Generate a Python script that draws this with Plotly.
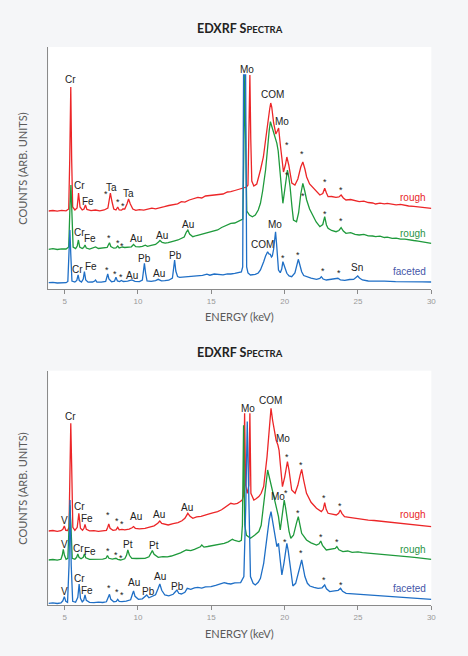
import plotly.graph_objects as go

# ---- upper panel: (energy keV, counts arb. units) ----
top_red = [(3.9,78),(4.2,78.5),(4.5,77.8),(4.8,78.6),(5.1,78.2),(5.28,80),(5.35,130),(5.42,202),(5.48,130),(5.55,82),
    (5.7,79),(5.85,81),(5.95,96),(6.05,82),(6.2,79),(6.32,80),(6.42,84),(6.52,79.5),(6.8,78.4),(7.1,79),(7.4,78.2),
    (7.7,79),(7.95,81),(8.05,90),(8.12,96),(8.22,88),(8.35,80),(8.5,79),(8.62,82),(8.72,79),(8.88,78.8),(8.97,80),
    (9.1,80),(9.25,85),(9.36,90),(9.48,85),(9.65,80),(9.85,78.6),(10.1,79.4),(10.4,78.8),(10.7,80.2),(10.95,80.8),
    (11.2,80.2),(11.5,81.6),(11.8,82.3),(12.1,83.5),(12.4,84.4),(12.7,85.2),(12.96,87.3),(13.2,86.8),(13.5,89),
    (13.8,90.6),(14.08,91.7),(14.35,91),(14.6,93),(14.9,93.5),(15.2,94),(15.5,95.2),(15.8,95),(16.1,97),(16.33,97.3),
    (16.6,98.5),(16.85,99.5),(17.05,100.7),(17.2,101.5),(17.4,102),(17.5,104),(17.57,150),(17.63,214),(17.69,150),
    (17.76,108),(17.9,103),(18.1,105),(18.35,119),(18.55,132),(18.7,149),(18.85,168),(18.98,180),(19.05,186),
    (19.12,182),(19.25,166),(19.4,155),(19.5,158),(19.59,161),(19.7,145),(19.81,129),(19.92,117),(20.05,124),
    (20.15,132),(20.28,124),(20.49,106),(20.7,104),(20.9,110),(21.1,122),(21.24,127),(21.38,120),(21.5,112),
    (21.7,105),(21.95,100.7),(22.2,97),(22.4,94),(22.6,95.5),(22.73,100.7),(22.85,96),(22.96,92.3),(23.2,92.5),
    (23.5,91.7),(23.7,92),(23.85,94),(24.0,91),(24.18,89),(24.5,89.5),(24.8,88),(25.08,87.3),(25.4,87.8),(25.7,86.5),
    (26.0,86),(26.2,85),(26.5,85.8),(26.8,85.2),(27.0,85.6),(27.33,85),(27.6,84.2),(27.9,84.6),(28.2,83.5),
    (28.45,83),(28.8,82.6),(29.1,82.2),(29.4,81.5),(29.7,81.2),(30.0,80.7)]

top_green = [(3.9,39.7),(4.2,40.3),(4.5,39.5),(4.8,40.2),(5.1,40),(5.28,42),(5.36,80),(5.43,104),(5.5,75),(5.58,42),
    (5.75,40.5),(5.86,43),(5.94,49),(6.03,42),(6.2,40.5),(6.3,41.5),(6.39,44),(6.48,41),(6.7,40),(7.0,41),(7.11,42),
    (7.3,40.5),(7.6,40.8),(7.9,41.5),(7.98,44),(8.06,46.3),(8.15,42.5),(8.35,40.8),(8.5,41),(8.62,43),(8.72,41),
    (8.85,41.2),(8.93,42),(9.1,41.5),(9.3,41.8),(9.55,42.2),(9.7,44.5),(9.85,42.4),(10.1,42.2),(10.3,42.6),
    (10.5,43.8),(10.65,42.6),(10.9,43.6),(11.2,44.6),(11.4,47),(11.5,48.5),(11.65,46.5),(11.85,45.8),(12.06,46.3),
    (12.3,47.6),(12.5,48.2),(12.73,49),(12.95,50.5),(13.15,52),(13.3,57),(13.4,59),(13.52,55),(13.74,52.3),
    (14.0,53.5),(14.3,54.6),(14.53,55.7),(14.8,56.8),(15.1,58),(15.43,59),(15.7,61.5),(16.0,63.5),(16.33,65.7),
    (16.6,66),(16.85,67.5),(17.0,69),(17.15,70),(17.22,140),(17.28,214),(17.35,140),(17.42,78),(17.6,74),
    (17.8,72.3),(18.0,74),(18.2,79),(18.35,85.7),(18.5,98),(18.7,119),(18.85,145),(18.95,159),(19.03,167.3),
    (19.12,163),(19.25,157.3),(19.38,150),(19.47,145.7),(19.56,138),(19.65,125.7),(19.76,105),(19.88,85.7),
    (20.0,98),(20.1,112),(20.19,119),(20.28,112),(20.37,102.3),(20.5,82),(20.6,69),(20.81,67.3),(20.95,76),
    (21.1,95),(21.24,105.7),(21.37,98),(21.5,89),(21.7,80),(21.95,72.3),(22.15,67),(22.4,62.3),(22.6,64.5),
    (22.73,72.3),(22.85,64),(22.96,60.7),(23.2,58.5),(23.5,57.3),(23.7,58.5),(23.85,61.3),(24.0,58),(24.18,55.7),
    (24.5,56.3),(24.8,54.6),(25.08,54),(25.4,54.6),(25.7,53.2),(26.0,53),(26.2,52.3),(26.5,52.8),(26.8,51.5),
    (27.0,51.8),(27.33,50.7),(27.6,50.8),(27.9,49.8),(28.2,49.9),(28.45,49),(28.8,48.5),(29.1,47.9),(29.4,47.2),
    (29.7,46.5),(30.0,45.7)]

top_blue = [(3.9,6.3),(4.2,6.6),(4.5,6.0),(4.8,6.5),(5.1,6.3),(5.22,7.5),(5.3,35),(5.36,59),(5.42,35),(5.5,8),
    (5.7,7),(5.83,8.5),(5.92,14),(6.0,8.5),(6.15,7),(6.27,10),(6.35,17.3),(6.44,9),(6.6,6.8),(6.9,7),(7.05,8),
    (7.11,9),(7.2,7),(7.5,6.8),(7.8,7.5),(7.88,11),(7.94,15),(8.02,10),(8.2,7.2),(8.4,7.8),(8.5,11.7),(8.6,8),
    (8.75,7.4),(8.87,8.5),(9.0,7.5),(9.3,7.8),(9.58,9),(9.8,7.6),(10.1,7.4),(10.3,9),(10.38,18),(10.44,25.7),
    (10.52,16),(10.62,8),(10.9,7.6),(11.2,8.4),(11.38,9.7),(11.6,8.2),(11.83,8.3),(12.1,8.8),(12.35,11),(12.43,20),
    (12.5,29),(12.58,18),(12.7,12.5),(12.84,11.7),(13.1,12),(13.4,12.6),(13.7,12.4),(14.08,13),(14.4,13.6),
    (14.7,14.8),(14.9,13.8),(15.2,15),(15.5,14.6),(15.8,14.2),(16.1,15.2),(16.33,15),(16.6,15.6),(16.89,16.3),
    (17.05,17),(17.14,22),(17.2,214),(17.34,214),(17.41,22),(17.5,16),(17.67,14),(18.0,14.7),(18.2,16),(18.35,19),
    (18.5,24),(18.57,27.3),(18.7,33),(18.84,37.3),(18.93,35),(19.02,34.7),(19.1,32),(19.16,33),(19.25,40),
    (19.32,52),(19.38,57.3),(19.45,45),(19.52,26),(19.58,19),(19.7,16.3),(19.8,20),(19.88,27.3),(19.98,22),
    (20.15,15.7),(20.3,13),(20.48,12.3),(20.7,16),(20.85,26),(20.93,29.7),(21.02,25),(21.16,17.3),(21.3,13.5),
    (21.49,12.3),(21.8,10.8),(22.17,9.7),(22.4,10.5),(22.5,12.3),(22.62,10),(22.84,9),(23.2,9.5),(23.5,9.8),
    (23.63,10.7),(23.8,9.2),(24.1,8.6),(24.42,9.5),(24.7,9.6),(24.9,12),(24.98,13),(25.1,11),(25.3,9),(25.7,8),
    (26.2,7.6),(26.8,7.8),(27.56,7.3),(28.2,7.5),(28.8,7.0),(29.4,7.2),(30.0,7)]

# ---- lower panel ----
bot_red = [(3.9,74.3),(4.2,74.8),(4.5,74),(4.75,74.6),(4.88,76),(4.98,79.3),(5.08,75),(5.2,74.8),(5.3,78),(5.36,140),
    (5.42,182),(5.48,140),(5.56,78),(5.7,75),(5.86,78),(5.97,92),(6.08,77),(6.22,75),(6.32,77),(6.39,81),(6.48,76),
    (6.7,74.5),(7.0,74.7),(7.3,74),(7.6,74.5),(7.85,75),(7.94,78),(8.01,81.3),(8.1,77),(8.3,75),(8.5,75.5),
    (8.62,78),(8.72,75.5),(8.91,76),(9.1,75.5),(9.4,76.2),(9.6,77.5),(9.7,78.7),(9.82,77),(10.1,76.5),(10.48,77),
    (10.8,78.5),(11.1,79.5),(11.35,82),(11.49,84.3),(11.62,82),(11.85,80.8),(12.06,80.3),(12.4,81.6),(12.73,82.7),
    (13.0,84.5),(13.2,87),(13.4,92),(13.55,89),(13.74,87),(14.0,88.4),(14.3,89),(14.53,90.3),(14.8,91.2),
    (15.1,92.5),(15.43,93.7),(15.7,95.5),(16.0,98.6),(16.33,102),(16.55,101.2),(16.78,102),(16.95,103.5),
    (17.11,105.3),(17.2,110),(17.27,192),(17.34,120),(17.45,112),(17.56,120),(17.63,192),(17.7,112),(17.9,105.3),
    (18.05,106.5),(18.24,108.7),(18.4,112),(18.57,118.7),(18.8,148.7),(18.95,175),(19.07,197),(19.18,185),
    (19.29,175.3),(19.42,165),(19.54,160.3),(19.62,155),(19.7,142),(19.85,118.7),(20.0,128),(20.1,138),
    (20.19,143.7),(20.3,135),(20.48,115.3),(20.71,112),(20.9,120),(21.05,130),(21.16,136),(21.3,125),(21.49,112),
    (21.8,103),(22.17,97),(22.5,93.7),(22.63,96),(22.73,102.7),(22.83,96),(22.96,92),(23.25,91),(23.52,90.3),
    (23.68,92),(23.79,95.3),(23.9,92),(24.08,88.7),(24.4,88),(24.8,87),(25.3,86),(25.7,85.2),(26.1,84.8),
    (26.5,84.2),(27.0,83.2),(27.56,82),(28.0,81.2),(28.5,80.5),(29.0,79.8),(29.5,79.2),(30.0,78.7)]

bot_green = [(3.9,45.3),(4.2,45.8),(4.5,45.1),(4.75,46),(4.84,50),(4.91,56),(4.99,50),(5.1,46),(5.22,47),(5.3,80),
    (5.36,100),(5.43,80),(5.52,47),(5.7,46),(5.82,48),(5.9,51.3),(5.98,48),(6.12,46.5),(6.27,48),(6.35,51.3),
    (6.44,47.5),(6.7,46),(7.0,46.2),(7.3,45.8),(7.6,46.2),(7.82,47),(7.92,49.7),(8.02,47),(8.25,46.2),(8.5,47),
    (8.62,46),(8.82,45.3),(9.1,46.5),(9.22,50),(9.31,55.3),(9.42,50),(9.58,47),(9.9,46.8),(10.2,47.2),(10.48,47),
    (10.75,48.5),(10.9,52),(10.98,54.7),(11.1,51),(11.38,48),(11.7,48.6),(12.0,48.5),(12.28,49.3),(12.6,50.8),
    (12.9,52.5),(13.29,55.3),(13.6,54.6),(13.85,56),(14.08,57),(14.25,58.5),(14.35,60.3),(14.5,58.2),(14.75,58.8),
    (14.98,59.3),(15.2,60.5),(15.5,60.8),(15.88,62),(16.15,63.5),(16.44,66),(16.6,64.8),(16.89,63.7),(17.05,65),
    (17.12,80),(17.2,180),(17.28,80),(17.4,70),(17.67,67),(17.95,70),(18.24,73.7),(18.4,80),(18.57,98.7),
    (18.72,120),(18.84,135.3),(18.95,128),(19.07,120.3),(19.18,114),(19.29,108.7),(19.45,98),(19.58,88.7),
    (19.7,75.3),(19.85,90),(19.97,105.3),(20.06,98),(20.15,88.7),(20.3,74),(20.42,67),(20.6,70),(20.8,82),
    (20.93,88.7),(21.05,80),(21.16,72),(21.49,65.3),(21.8,62.5),(22.17,60.3),(22.35,61.5),(22.46,64.3),(22.58,60),
    (22.84,55.3),(23.2,56.5),(23.45,56.8),(23.56,58.7),(23.7,55.5),(23.97,53.7),(24.3,54.3),(24.6,53),(25.0,53.4),
    (25.3,52.7),(25.7,52.2),(26.1,51.8),(26.5,51.4),(27.0,51),(27.56,50.3),(28.0,49.5),(28.5,48.4),(29.0,47.6),
    (29.5,46.8),(30.0,46)]

bot_blue = [(3.9,2),(4.2,2.4),(4.5,1.8),(4.75,2.4),(4.88,4.5),(4.98,8.7),(5.08,4),(5.2,3),(5.3,40),(5.37,105.3),
    (5.45,40),(5.55,4),(5.75,3),(5.9,8),(5.99,21.3),(6.08,7),(6.2,3.5),(6.3,5),(6.39,10.3),(6.48,5),(6.7,3),
    (7.0,2.7),(7.3,3.2),(7.6,2.8),(7.85,3.5),(7.98,8),(8.06,11),(8.15,6),(8.35,3.5),(8.52,4),(8.62,6),(8.72,4),
    (8.91,3.7),(9.2,4.2),(9.5,5.5),(9.62,11),(9.7,14.3),(9.8,9),(10.03,6),(10.3,6.5),(10.5,8.5),(10.6,10.3),
    (10.75,7.5),(10.93,8.7),(11.2,10.5),(11.38,17),(11.49,21.3),(11.62,15),(11.83,10.3),(12.1,9.5),(12.4,11),
    (12.58,14),(12.66,15.3),(12.78,12),(12.96,11.3),(13.2,13),(13.36,17),(13.6,16),(13.85,17.5),(14.08,18),
    (14.35,17.2),(14.6,18.5),(14.98,18.7),(15.3,20),(15.6,21.2),(15.88,22.7),(16.1,21.8),(16.33,21.3),(16.6,22.4),
    (17.0,22.7),(17.22,28.7),(17.35,100),(17.45,183.7),(17.55,100),(17.67,28.7),(17.85,22),(18.0,20.3),(18.2,23),
    (18.35,27),(18.57,42),(18.72,58),(18.84,75.3),(18.95,86),(19.07,93.7),(19.16,86),(19.25,78.7),(19.38,66),
    (19.47,58.7),(19.52,60),(19.58,62),(19.7,45),(19.81,30.3),(19.95,42),(20.07,56),(20.15,62),(20.24,55),
    (20.33,45.3),(20.45,28),(20.56,19.3),(20.75,22),(20.95,33),(21.08,42),(21.16,45.3),(21.26,38),(21.38,28.7),
    (21.55,22),(21.72,19.3),(22.0,18),(22.28,17),(22.55,17.5),(22.73,20.3),(22.85,16.5),(23.07,13.7),(23.4,14.5),
    (23.65,15),(23.81,17),(23.95,14),(24.19,12),(24.6,11.6),(25.0,10.8),(25.3,10.3),(25.8,10),(26.4,9.4),
    (27.0,9),(27.56,8.7),(28.2,8),(28.8,7.4),(29.4,6.8),(30.0,6)]

# peak labels: (text, keV, counts)
top_labels = [("Cr",5.4,210),("Mo",17.4,220),("COM",19.14,195),("Mo",19.83,168),("*",20.15,144),("*",21.2,135),
    ("*",22.76,107),("*",23.84,99),
    ("Cr",5.99,104),("Fe",6.62,88),("*",7.79,95),("Ta",8.2,102),("*",8.63,87),("*",8.99,83),("Ta",9.38,96),
    ("*",20.19,114),("*",21.24,93),("*",22.73,75),("*",23.85,68),
    ("Cr",5.99,57),("Fe",6.75,51),("*",8.02,51),("*",8.63,46),("*",8.93,43),("Au",9.88,51),("Au",11.66,54),
    ("Au",13.41,65),
    ("Cr",5.88,20),("Fe",6.78,23),("*",7.92,19),("*",8.46,15),("*",8.82,12),("Au",9.61,14),("Pb",10.44,31),
    ("Au",11.41,16),("Pb",12.55,34),("COM",18.47,45),("Mo",19.32,65),("*",19.86,31),("*",20.94,34),
    ("*",22.6,18),("*",23.7,16),("Sn",24.92,22)]

bot_labels = [("Cr",5.4,189),("Mo",17.5,197),("COM",19.03,205),("Mo",19.86,167),("*",20.15,148),("*",21.14,140),
    ("*",22.69,107),("*",23.75,99),
    ("V",4.98,85),("Cr",5.99,99),("Fe",6.55,87),("*",7.95,90),("*",8.6,84),("*",8.91,81),("Au",9.88,89),
    ("Au",11.43,91),("Au",13.32,98),
    ("V",4.96,61),("Cr",5.92,57),("Fe",6.75,54),("*",7.93,54),("*",8.49,50),("*",8.82,47),("Pt",9.32,61),
    ("Pt",11.07,60),("Mo",19.55,109),("*",20.06,112),("*",20.94,92),("*",22.47,68),("*",23.57,63),
    ("V",4.98,14),("Cr",5.99,27),("Fe",6.55,15),("*",8.06,17),("*",8.58,13),("*",8.91,10),("Au",9.72,23),
    ("Pb",10.71,14),("Au",11.52,29),("Pb",12.69,19),("*",20.0,63),("*",21.1,52),("*",22.69,25),("*",23.81,20)]

series_names = ["rough", "rough", "faceted"]
top_name_y = [92, 56, 18]
bot_name_y = [91, 56, 17]

colors = ["#ec2628", "#1f9a3c", "#1f6fc6"]
name_colors = ["#e8262a", "#2a9448", "#4656a8"]

fig = go.Figure()

for pts, c in zip([top_red, top_green, top_blue], colors):
    fig.add_trace(go.Scatter(x=[p[0] for p in pts], y=[p[1] for p in pts], mode="lines",
                             line=dict(color=c, width=1.3), xaxis="x", yaxis="y", showlegend=False))
for pts, c in zip([bot_red, bot_green, bot_blue], colors):
    fig.add_trace(go.Scatter(x=[p[0] for p in pts], y=[p[1] for p in pts], mode="lines",
                             line=dict(color=c, width=1.3), xaxis="x2", yaxis="y2", showlegend=False))

annotations = []
label_font = dict(family="Liberation Sans, Arial", size=10, color="#222222")
star_font = dict(family="Liberation Sans, Arial", size=9, color="#222222")
for labels, xr, yr in [(top_labels, "x", "y"), (bot_labels, "x2", "y2")]:
    for txt, x, y in labels:
        annotations.append(dict(text=txt, x=x, y=y, xref=xr, yref=yr, showarrow=False,
                                xanchor="center", yanchor="middle",
                                font=star_font if txt == "*" else label_font))
    name_y = top_name_y if xr == "x" else bot_name_y
    for nm, y, c in zip(series_names, name_y, name_colors):
        annotations.append(dict(text=nm, x=29.8, y=y, xref=xr, yref=yr, showarrow=False,
                                xanchor="right", yanchor="middle",
                                font=dict(family="Liberation Sans, Arial", size=10, color=c)))

title_txt = "EDXRF S<span style='font-size:9.5px'>PECTRA</span>"
axis_font = dict(family="Lato, Open Sans", size=11, color="#5a5a5a")
for ty, xy, yy in [(1 - 29 / 656, 1 - 316 / 656, 1 - 168 / 656), (1 - 352 / 656, 1 - 633 / 656, 1 - 488 / 656)]:
    annotations.append(dict(text=title_txt, x=242.5 / 468, y=ty, xref="paper", yref="paper", showarrow=False,
                            xanchor="center", yanchor="middle",
                            font=dict(family="Lato", size=12.5, color="#222222", weight="bold")))
    annotations.append(dict(text="ENERGY (keV)", x=242.5 / 468, y=xy, xref="paper", yref="paper",
                            showarrow=False, xanchor="center", yanchor="middle", font=axis_font))
    annotations.append(dict(text="COUNTS (ARB. UNITS)", x=22 / 468, y=yy, xref="paper", yref="paper",
                            showarrow=False, xanchor="center", yanchor="middle", textangle=-90, font=axis_font))

xax = dict(range=[3.9, 30], tickvals=[5, 10, 15, 20, 25, 30], showline=True, linecolor="#8a8a8a", linewidth=1,
           ticks="outside", ticklen=4, tickcolor="#8a8a8a", showgrid=False, zeroline=False,
           tickfont=dict(family="Liberation Sans, Arial", size=8, color="#999999"), fixedrange=True)
yax = dict(showline=True, linecolor="#8a8a8a", linewidth=1, showticklabels=False, ticks="",
           showgrid=False, zeroline=False, fixedrange=True)

fig.update_layout(
    width=468, height=656,
    margin=dict(l=0, r=0, t=0, b=0),
    paper_bgcolor="#f5f6f8",
    plot_bgcolor="#ffffff",
    xaxis=dict(xax, domain=[49 / 468, 436 / 468], anchor="y"),
    yaxis=dict(yax, domain=[1 - 289 / 656, 1 - 47 / 656], range=[0, 242], anchor="x"),
    xaxis2=dict(xax, domain=[49 / 468, 436 / 468], anchor="y2"),
    yaxis2=dict(yax, domain=[1 - 605.3 / 656, 1 - 370.7 / 656], range=[0, 234.6], anchor="x2"),
    annotations=annotations,
)

# the page body has a default 8px margin; drop it so the figure fills the window
fig.write_html("out.html", config={"displayModeBar": False},
               post_script="document.body.style.margin='0';document.body.style.background='#f5f6f8';")
